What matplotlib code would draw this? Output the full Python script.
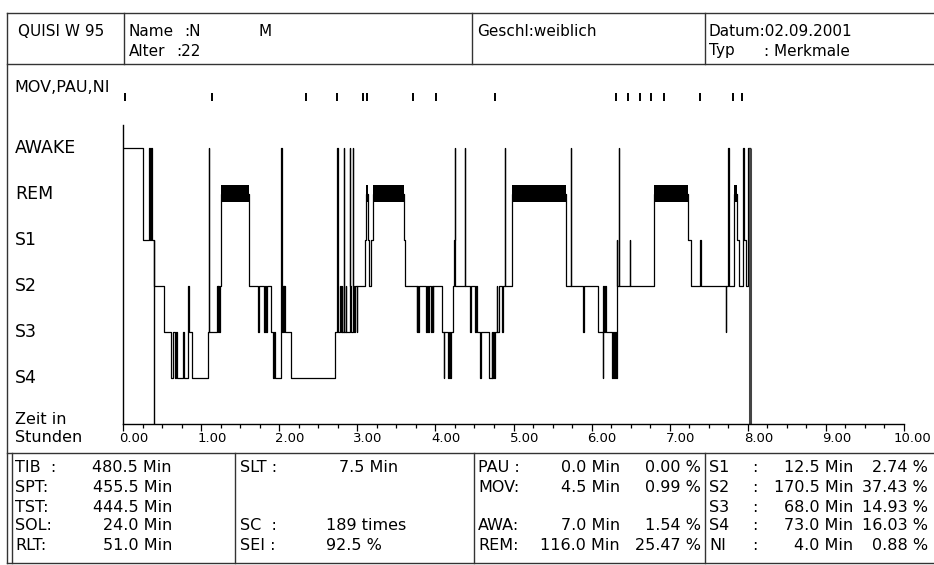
import numpy as np
import matplotlib.pyplot as plt
from matplotlib import transforms as mtransforms

plt.rcParams['font.family'] = ['DejaVu Sans']

W, H = 934, 565

################################################################
#     DATA                                                     #
################################################################
stage_names = ['AWAKE', 'REM', 'S1', 'S2', 'S3', 'S4']
stage_level = {'W': 6, 'R': 5, '1': 4, '2': 3, '3': 2, '4': 1}

# hypnogram: start time of each epoch run (hours) and its stage
hyp_time = [0.00, 0.25, 0.335, 0.35, 0.36, 0.375, 0.395,
            0.53, 0.62, 0.64, 0.665, 0.675, 0.687, 0.764, 0.775,
            0.83, 0.84, 0.88,
            1.092, 1.10, 1.105,
            1.20, 1.21, 1.22, 1.23, 1.24,
            1.255, 1.613,
            1.73, 1.74, 1.805, 1.815, 1.83, 1.84,
            1.90, 1.92, 1.93, 1.95,
            2.02, 2.03, 2.055, 2.06, 2.065, 2.07, 2.147,
            2.72, 2.735, 2.755,
            2.78, 2.79, 2.80, 2.81,
            2.83, 2.835, 2.85, 2.86,
            2.905, 2.91, 2.925,
            2.94, 2.945, 2.955, 2.97, 2.99, 3.00,
            3.10, 3.115, 3.14, 3.155, 3.18, 3.20,
            3.60, 3.615,
            3.76, 3.77, 3.775, 3.785,
            3.88, 3.895, 3.91, 3.92, 3.95, 3.955, 3.965, 3.975,
            4.08, 4.11, 4.115, 4.16, 4.175, 4.19, 4.20,
            4.225, 4.24, 4.245, 4.255,
            4.38, 4.385,
            4.443, 4.45, 4.51, 4.52, 4.535,
            4.57, 4.58, 4.68, 4.72, 4.725, 4.74, 4.745, 4.76,
            4.785, 4.795, 4.81, 4.85, 4.86,
            4.885, 4.89, 4.975,
            5.668, 5.73, 5.735, 5.894, 5.90,
            6.086, 6.14, 6.143, 6.15, 6.16, 6.17, 6.185,
            6.257, 6.275, 6.29, 6.30, 6.31,
            6.32, 6.33, 6.345, 6.35,
            6.49, 6.495, 6.80,
            7.24, 7.27, 7.39, 7.395,
            7.717, 7.72, 7.75, 7.76,
            7.82, 7.86, 7.885, 7.94, 7.95, 7.975, 8.005]
hyp_stage = list("W1W1W12"
                 "34343434"
                 "234"
                 "3W3"
                 "23232"
                 "R2"
                 "323232"
                 "3434"
                 "W323234"
                 "3W3"
                 "2323"
                 "W323"
                 "W23"
                 "W23232"
                 "1R121R"
                 "12"
                 "3232"
                 "32323232"
                 "3434343"
                 "21W2"
                 "W2"
                 "32323"
                 "43434343"
                 "23232"
                 "W2R"
                 "2W232"
                 "3432323"
                 "43434"
                 "12W2"
                 "12R"
                 "1212"
                 "32W2"
                 "R12W12W")
hyp_end = 8.03

mov_time = [0.03, 1.14, 2.34, 2.74, 3.07, 3.12, 3.71, 4.01, 4.76,
            6.31, 6.47, 6.62, 6.76, 6.93, 7.39, 7.81, 7.92]

onset_time = 0.40
end_time = 8.03

hour_ticks = list(range(0, 11))
hour_labels = ['%.2f' % h for h in hour_ticks]

# summary table
col1_lab = ['TIB  :', 'SPT:', 'TST:', 'SOL:', 'RLT:']
col1_val = ['480.5 Min', '455.5 Min', '444.5 Min', '24.0 Min', '51.0 Min']
col2_lab = ['SLT :', '', '', 'SC  :', 'SEI :']
col2_val = ['7.5 Min', '', '', '189 times', '92.5 %']
col3_lab = ['PAU :', 'MOV:', '', 'AWA:', 'REM:']
col3_min = ['0.0 Min', '4.5 Min', '', '7.0 Min', '116.0 Min']
col3_pct = ['0.00 %', '0.99 %', '', '1.54 %', '25.47 %']
col4_lab = ['S1', 'S2', 'S3', 'S4', 'NI']
col4_min = ['12.5 Min', '170.5 Min', '68.0 Min', '73.0 Min', '4.0 Min']
col4_pct = ['2.74 %', '37.43 %', '14.93 %', '16.03 %', '0.88 %']

################################################################
#     FIGURE / FRAME                                           #
################################################################
fig = plt.figure(figsize=(W / 100, H / 100), dpi=100)
frame = fig.add_axes([0, 0, 1, 1])
frame.set_xlim(0, W)
frame.set_ylim(H, 0)
frame.axis('off')

lc = '#333333'
def hline(y, x0, x1):
    frame.plot([x0, x1], [y, y], color=lc, lw=1.0)
def vline(x, y0, y1):
    frame.plot([x, x], [y0, y1], color=lc, lw=1.0)

# outer border and header box
vline(7, 13, 563)
hline(13, 7, W)
hline(64, 7, W)
for x in [124, 472, 705]:
    vline(x, 13, 64)
# bottom table box
hline(453, 7, W)
hline(563, 7, W)
vline(12, 453, 563)
for x in [235, 474, 705]:
    vline(x, 453, 563)

def tx(x, y, s, size=11.5, ha='left'):
    frame.text(x, y, s, fontsize=size, ha=ha, va='center', color='black')

# header
hs = 11
tx(18, 32, 'QUISI W 95', hs)
tx(129, 32, 'Name', hs)
tx(184, 32, ':N', hs)
tx(258, 32, 'M', hs)
tx(129, 51, 'Alter', hs)
tx(176, 51, ':22', hs)
tx(477, 32, 'Geschl:weiblich', hs)
tx(709, 32, 'Datum:02.09.2001', hs)
tx(709, 51, 'Typ', hs)
tx(764, 51, ': Merkmale', hs)

tx(14, 88, 'MOV,PAU,NI', 11.5)

################################################################
#     HYPNOGRAM                                                #
################################################################
y0px, ytop_px = 424.0, 124.5
x0px, x1px = 123.0, 904.0
ax = fig.add_axes([x0px / W, 1 - y0px / H, (x1px - x0px) / W, (y0px - ytop_px) / H])
ax.patch.set_alpha(0)
ax.set_xlim(0, 10)
ax.set_ylim(0, 6.5)
for sp in ['top', 'right']:
    ax.spines[sp].set_visible(False)
ax.spines['left'].set_linewidth(1.0)
ax.spines['bottom'].set_linewidth(1.0)
ax.set_yticks([])
ax.set_xticks(hour_ticks)
ax.set_xticks(np.arange(0, 10.01, 0.25), minor=True)
ax.tick_params(axis='x', which='major', length=5, width=0.9, direction='out', labelbottom=False)
ax.tick_params(axis='x', which='minor', length=3, width=0.9, direction='out')

for h, lbl in zip(hour_ticks, hour_labels):
    dx = -10 if h == hour_ticks[-1] else -4
    tr = mtransforms.offset_copy(ax.get_xaxis_transform(), fig=fig, x=dx, y=0, units='dots')
    ax.text(h, -0.047, lbl, transform=tr, fontsize=9.5, ha='left', va='center', clip_on=False)

levels = [stage_level[s] for s in hyp_stage]
ax.step(hyp_time + [hyp_end], levels + [levels[-1]], where='post', color='black', lw=0.9)

t_next = hyp_time[1:] + [hyp_end]
rem_segs = [(t, tn - t) for t, tn, s in zip(hyp_time, t_next, hyp_stage) if s == 'R']
ax.broken_barh(rem_segs, (5 - 0.185, 0.37), facecolors='black')

ax.vlines(onset_time, 0, stage_level['1'], color='black', lw=1.0)
ax.vlines(end_time, 0, stage_level['W'], color='#444444', lw=2.2)

px_per_unit = (y0px - ytop_px) / 6.5
for name, key in zip(stage_names, ['W', 'R', '1', '2', '3', '4']):
    tx(15, y0px - stage_level[key] * px_per_unit, name, 12.5)

tx(15, 419, 'Zeit in', 11.5)
tx(15, 438, 'Stunden', 11.5)

# movement / pause / NI marks
axm = fig.add_axes([x0px / W, 1 - 104 / H, (x1px - x0px) / W, 14 / H])
axm.set_xlim(0, 10)
axm.set_ylim(0, 1)
axm.axis('off')
axm.vlines(mov_time, 0.2, 0.8, color='black', lw=1.4)

################################################################
#     SUMMARY TABLE                                            #
################################################################
rows_y = [467, 487, 507, 526, 546]
for i, y in enumerate(rows_y):
    tx(15, y, col1_lab[i])
    tx(172, y, col1_val[i], ha='right')
    if col2_lab[i]:
        tx(240, y, col2_lab[i])
    if i == 0:
        tx(398, y, col2_val[i], ha='right')
    elif col2_val[i]:
        tx(326, y, col2_val[i])
    if col3_lab[i]:
        tx(478, y, col3_lab[i])
        tx(620, y, col3_min[i], ha='right')
        tx(701, y, col3_pct[i], ha='right')
    tx(709, y, col4_lab[i])
    tx(752, y, ':')
    tx(853, y, col4_min[i], ha='right')
    tx(928, y, col4_pct[i], ha='right')

fig.savefig('out.png', dpi=100)
